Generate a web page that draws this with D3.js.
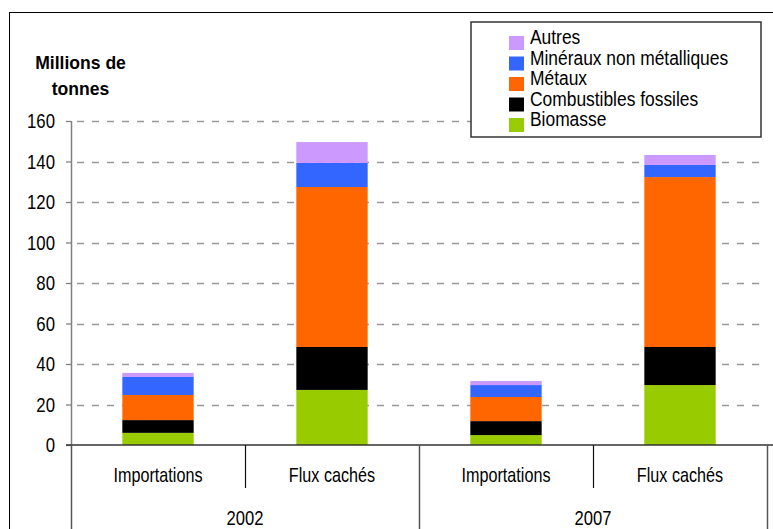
<!DOCTYPE html>
<html>
<head>
<meta charset="utf-8">
<script src="https://cdn.jsdelivr.net/npm/d3@7"></script>
<style>
  html, body { margin: 0; padding: 0; background: #fff; }
  svg { display: block; }
  text { font-family: "Liberation Sans", Arial, sans-serif; fill: #000; }
</style>
</head>
<body>
<div id="chart"></div>
<script>
// Material flows (millions of tonnes), by year and flow type
const categories = ["Importations 2002", "Flux cachés 2002", "Importations 2007", "Flux cachés 2007"];
const categoryLabels = ["Importations", "Flux cachés", "Importations", "Flux cachés"];
const years = ["2002", "2007"];
const seriesNames = ["Biomasse", "Combustibles fossiles", "Métaux", "Minéraux non métalliques", "Autres"];
const biomasse      = [6.0, 27.2, 4.9, 29.6];
const combustibles  = [6.3, 21.2, 6.9, 18.8];
const metaux        = [12.4, 79.0, 11.9, 83.9];
const mineraux      = [8.9, 11.9, 5.9, 6.0];
const autres        = [2.0, 10.3, 2.0, 4.9];
const yTicks = [0, 20, 40, 60, 80, 100, 120, 140, 160];
const colors = ["#99CC00", "#000000", "#FF6600", "#3366FF", "#CC99FF"];

const W = 773, H = 529;
const plot = { left: 71, right: 767, top: 121, bottom: 445 };

const svg = d3.select("#chart").append("svg").attr("width", W).attr("height", H);

// outer frame
svg.append("rect").attr("x", 9.5).attr("y", 12.5).attr("width", W + 10).attr("height", H + 10)
  .attr("fill", "none").attr("stroke", "#000").attr("stroke-width", 1);

const rows = categories.map((c, i) => ({
  cat: c,
  "Biomasse": biomasse[i],
  "Combustibles fossiles": combustibles[i],
  "Métaux": metaux[i],
  "Minéraux non métalliques": mineraux[i],
  "Autres": autres[i]
}));
const stacked = d3.stack().keys(seriesNames)(rows);

const x = d3.scaleBand().domain(categories).range([plot.left, plot.right])
  .paddingInner(0.59).paddingOuter(0.295);
const y = d3.scaleLinear().domain([0, 160]).range([plot.bottom, plot.top]);

// narrow text helper (horizontal squeeze)
function label(g, str, tx, ty, opts = {}) {
  return g.append("text")
    .attr("transform", `translate(${tx},${ty}) scale(${opts.sx || 0.9},1)`)
    .attr("text-anchor", opts.anchor || "start")
    .style("font-size", (opts.size || 18) + "px")
    .style("font-weight", opts.weight || "normal")
    .text(str);
}

// gridlines
svg.append("g").selectAll("line").data(yTicks.filter(d => d > 0)).join("line")
  .attr("x1", plot.left + 6).attr("x2", plot.right)
  .attr("y1", d => Math.round(y(d)) + 0.5).attr("y2", d => Math.round(y(d)) + 0.5)
  .attr("stroke", "#999").attr("stroke-width", 1.3).attr("stroke-dasharray", "7,8");

// bars
svg.append("g").selectAll("g").data(stacked).join("g")
  .attr("fill", (d, i) => colors[i])
  .selectAll("rect").data(d => d).join("rect")
  .attr("x", d => x(d.data.cat))
  .attr("width", x.bandwidth())
  .attr("y", d => y(d[1]))
  .attr("height", d => y(d[0]) - y(d[1]));

// y axis
const yAxis = svg.append("g").attr("transform", `translate(${plot.left},0)`)
  .call(d3.axisLeft(y).tickValues(yTicks).tickSize(5).tickPadding(0).tickFormat(""));
yAxis.select(".domain").attr("stroke", "#808080").attr("stroke-width", 1.5)
  .attr("d", `M0.5,${plot.top}V${plot.bottom}`);
yAxis.selectAll(".tick line").attr("stroke", "#808080").attr("stroke-width", 1.3);
yTicks.forEach(v => label(svg, String(v), 55, y(v) + 7, { anchor: "end", size: 19.5, sx: 0.86 }));

// x axis baseline and category separators
const xg = svg.append("g");
xg.append("line").attr("x1", plot.left - 5).attr("x2", plot.right + 6)
  .attr("y1", plot.bottom).attr("y2", plot.bottom)
  .attr("stroke", "#333").attr("stroke-width", 1.5);
const gap = (x.step() - x.bandwidth()) / 2;
const bounds = categories.map(c => x(c) - gap).concat([plot.right]);
bounds.forEach((b, i) => {
  xg.append("line")
    .attr("x1", Math.round(b) + 0.5).attr("x2", Math.round(b) + 0.5)
    .attr("y1", plot.bottom).attr("y2", i % 2 === 0 ? H : 488)
    .attr("stroke", i % 2 === 0 ? "#555" : "#111").attr("stroke-width", i % 2 === 0 ? 1.5 : 1.2);
});
categories.forEach((c, i) => {
  label(svg, categoryLabels[i], x(c) + x.bandwidth() / 2, 482, { anchor: "middle", size: 19.5, sx: 0.83 });
});
years.forEach((yr, i) => {
  const cx = (bounds[i * 2] + bounds[i * 2 + 2]) / 2;
  label(svg, yr, cx, 525, { anchor: "middle", size: 19.5, sx: 0.85 });
});

// y axis title
label(svg, "Millions de", 80.5, 69, { anchor: "middle", size: 18.5, weight: "bold", sx: 0.95 });
label(svg, "tonnes", 80.5, 95, { anchor: "middle", size: 18.5, weight: "bold", sx: 0.95 });

// legend
const lg = svg.append("g");
lg.append("rect").attr("x", 471).attr("y", 22).attr("width", 290).attr("height", 115)
  .attr("fill", "#fff").attr("stroke", "#333").attr("stroke-width", 1.5);
const legendOrder = seriesNames.map((n, i) => ({ n, c: colors[i] })).reverse();
legendOrder.forEach((d, i) => {
  const base = 44 + i * 20.5;
  lg.append("rect").attr("x", 509).attr("y", base - 8).attr("width", 15).attr("height", 14).attr("fill", d.c);
  label(lg, d.n, 530, base, { size: 20, sx: 0.87 });
});
</script>
</body>
</html>
